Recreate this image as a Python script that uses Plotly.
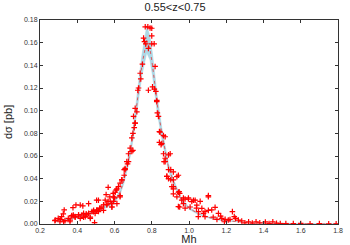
import plotly.graph_objects as go

# Model curve (center) and uncertainty band
curve_x = [0.28, 0.30, 0.35, 0.40, 0.45, 0.50, 0.55, 0.60, 0.63, 0.65, 0.667, 0.685, 0.70, 0.72,
           0.747, 0.773, 0.79, 0.804, 0.83, 0.854, 0.87, 0.89, 0.92, 0.96, 1.0, 1.05, 1.1, 1.15,
           1.2, 1.3, 1.4, 1.5, 1.6, 1.7, 1.8]
curve_y = [0.002, 0.003, 0.004, 0.006, 0.008, 0.011, 0.015, 0.020, 0.028, 0.038, 0.050, 0.064, 0.080, 0.107,
           0.140, 0.162, 0.155, 0.140, 0.105, 0.080, 0.065, 0.050, 0.036, 0.021, 0.014, 0.009, 0.006, 0.004,
           0.003, 0.0015, 0.0008, 0.0004, 0.0002, 0.0001, 0.0001]
band_lo = [0.0015, 0.0025, 0.0035, 0.0053, 0.0072, 0.010, 0.0138, 0.0185, 0.026, 0.0355, 0.047, 0.060, 0.075, 0.100,
           0.131, 0.151, 0.145, 0.131, 0.098, 0.075, 0.061, 0.047, 0.034, 0.0195, 0.013, 0.0083, 0.0055, 0.0036,
           0.0027, 0.0013, 0.0007, 0.0003, 0.00015, 0.00008, 0.00008]
band_hi = [0.0025, 0.0035, 0.0045, 0.0067, 0.0088, 0.012, 0.0162, 0.0215, 0.030, 0.0405, 0.053, 0.068, 0.085, 0.114,
           0.149, 0.175, 0.166, 0.150, 0.112, 0.085, 0.069, 0.053, 0.038, 0.0225, 0.015, 0.0097, 0.0065, 0.0044,
           0.0033, 0.0017, 0.0009, 0.0005, 0.00025, 0.00012, 0.00012]

# Data points (red crosses)
pts_x = [0.282, 0.309, 0.327, 0.330, 0.362, 0.371, 0.377, 0.389, 0.407, 0.416, 0.430, 0.434, 0.448, 0.461,
         0.470, 0.487, 0.493, 0.506, 0.514, 0.523, 0.541, 0.555, 0.559, 0.577, 0.586, 0.595, 0.609, 0.621,
         0.630, 0.640, 0.652, 0.657, 0.666, 0.675, 0.684, 0.699, 0.711,
         0.280, 0.298, 0.307, 0.316, 0.325, 0.334, 0.352, 0.361, 0.370, 0.379, 0.388, 0.393, 0.407, 0.416,
         0.425, 0.434, 0.443, 0.452, 0.461, 0.470, 0.479, 0.488, 0.496, 0.504, 0.504, 0.514, 0.520, 0.532,
         0.541, 0.550, 0.559, 0.566, 0.566, 0.575, 0.584, 0.593, 0.600, 0.610,
         0.711, 0.720, 0.702, 0.711, 0.706, 0.693, 0.699, 0.693, 0.675, 0.670, 0.657, 0.652, 0.639, 0.630,
         0.613, 0.604, 0.630, 0.595, 0.586, 0.613,
         0.765, 0.779, 0.791, 0.800, 0.756, 0.800, 0.761, 0.768, 0.782, 0.800, 0.813, 0.750, 0.818, 0.738,
         0.741, 0.729, 0.725, 0.782, 0.804, 0.814, 0.822, 0.827,
         0.827, 0.830, 0.836, 0.845, 0.863, 0.872, 0.841, 0.854, 0.899, 0.890, 0.872, 0.866, 0.902, 0.916,
         0.881, 0.890, 0.916, 0.908, 0.916, 0.943, 0.950, 0.935, 0.970, 0.997, 1.024, 0.970, 0.950, 1.006,
         0.979, 1.040, 1.051, 1.078, 1.104, 1.104, 1.086,
         0.841, 0.850, 0.863, 0.872, 0.890, 0.881, 0.902, 0.916, 0.916,
         0.935, 0.943, 0.947, 0.943, 0.961, 0.979, 0.997, 1.015, 1.033, 1.042, 1.060, 1.104, 1.069, 1.050,
         1.086, 1.122, 1.140, 1.158, 1.176, 1.194, 1.211, 1.233, 1.243, 1.265, 1.283, 1.320, 1.360, 1.410,
         1.450, 1.490, 1.130, 1.150, 1.170, 1.190, 1.220, 1.250, 1.300, 1.340, 1.380, 1.430, 1.470, 1.520,
         1.560, 1.600, 1.650, 1.700, 1.750, 1.790]
pts_y = [0.0035, 0.004, 0.002, 0.0124, 0.0035, 0.0075, 0.0144, 0.006, 0.008, 0.0167, 0.016, 0.0059, 0.009, 0.018,
         0.006, 0.0109, 0.0012, 0.0124, 0.021, 0.014, 0.017, 0.026, 0.0176, 0.020, 0.015, 0.024, 0.030, 0.033,
         0.025, 0.039, 0.048, 0.049, 0.055, 0.062, 0.067, 0.080, 0.089,
         0.003, 0.005, 0.002, 0.0065, 0.009, 0.003, 0.005, 0.002, 0.007, 0.008, 0.0065, 0.0168, 0.008, 0.005,
         0.008, 0.0094, 0.0065, 0.008, 0.0094, 0.005, 0.011, 0.012, 0.0094, 0.021, 0.012, 0.011, 0.0138, 0.015,
         0.012, 0.021, 0.0168, 0.0324, 0.020, 0.024, 0.018, 0.027, 0.023, 0.030,
         0.102, 0.099, 0.095, 0.089, 0.085, 0.076, 0.065, 0.064, 0.055, 0.053, 0.048, 0.043, 0.039, 0.036,
         0.031, 0.028, 0.024, 0.020, 0.015, 0.018,
         0.174, 0.174, 0.173, 0.1727, 0.164, 0.166, 0.161, 0.159, 0.155, 0.159, 0.159, 0.141, 0.139, 0.133,
         0.128, 0.120, 0.118, 0.118, 0.121, 0.119, 0.117, 0.109,
         0.108, 0.098, 0.095, 0.081, 0.078, 0.077, 0.072, 0.071, 0.062, 0.061, 0.058, 0.055, 0.048, 0.046,
         0.042, 0.040, 0.039, 0.033, 0.031, 0.028, 0.027, 0.024, 0.023, 0.023, 0.021, 0.018, 0.015, 0.015,
         0.014, 0.014, 0.011, 0.0094, 0.024, 0.012, 0.0065,
         0.0815, 0.070, 0.062, 0.055, 0.048, 0.042, 0.039, 0.033, 0.0265,
         0.0418, 0.043, 0.0285, 0.0153, 0.021, 0.022, 0.022, 0.0198, 0.021, 0.0167, 0.020, 0.025, 0.0138, 0.0065,
         0.0109, 0.0124, 0.0147, 0.0094, 0.005, 0.0041, 0.0035, 0.0109, 0.0065, 0.0035, 0.0027, 0.002, 0.002, 0.0018,
         0.002, 0.0003, 0.006, 0.004, 0.007, 0.002, 0.004, 0.005, 0.001, 0.0008, 0.001, 0.0005, 0.0007, 0.0004,
         0.0003, 0.0005, 0.0002, 0.0003, 0.0002, 0.0002]

x_ticks = [0.2, 0.4, 0.6, 0.8, 1.0, 1.2, 1.4, 1.6, 1.8]
y_ticks = [0.00, 0.02, 0.04, 0.06, 0.08, 0.10, 0.12, 0.14, 0.16, 0.18]

fig = go.Figure()
fig.add_trace(go.Scatter(x=curve_x, y=band_lo, mode="lines", line=dict(color="#a6d4e2", width=0.5),
                         showlegend=False, hoverinfo="skip"))
fig.add_trace(go.Scatter(x=curve_x, y=band_hi, mode="lines", line=dict(color="#a6d4e2", width=0.5),
                         fill="tonexty", fillcolor="#add8e6", showlegend=False, hoverinfo="skip"))
fig.add_trace(go.Scatter(x=curve_x, y=curve_y, mode="lines",
                         line=dict(color="rgba(225,70,70,0.85)", width=1, dash="dot"), showlegend=False))
fig.add_trace(go.Scatter(x=pts_x, y=pts_y, mode="markers",
                         marker=dict(symbol="cross-thin", size=4, line=dict(color="#ff0000", width=1.2)),
                         showlegend=False))

axis_common = dict(showgrid=False, zeroline=False, showline=True, linecolor="#333333", linewidth=1,
                   mirror="ticks", ticks="inside", ticklen=3, tickcolor="#333333", automargin=False,
                   tickfont=dict(size=7, color="#333333", family="Liberation Sans"))
fig.update_xaxes(range=[0.2, 1.8], tickvals=x_ticks, ticktext=[f"{v:.1f}" for v in x_ticks],
                 title=dict(text="Mh", font=dict(size=11, color="#222222", family="Liberation Sans"), standoff=1),
                 **axis_common)
fig.update_yaxes(range=[0, 0.18], tickvals=y_ticks, ticktext=[f"{v:.2f}" for v in y_ticks],
                 **axis_common)
fig.update_layout(
    width=350, height=245,
    margin=dict(l=40, r=12, t=20, b=21),
    plot_bgcolor="white", paper_bgcolor="white",
    title=dict(text="0.55<z<0.75", x=0.5, xanchor="center", y=0.985, yanchor="top",
               font=dict(size=11, color="#222222", family="Liberation Sans")),
    annotations=[dict(text="dσ [pb]", textangle=-90, xref="paper", yref="paper",
                      x=-0.107, y=0.5, xanchor="center", yanchor="middle", showarrow=False,
                      font=dict(size=11, color="#222222", family="Liberation Sans"))],
)
fig.write_html("out.html", config={"displayModeBar": False},
               post_script="document.body.style.margin='0';")
